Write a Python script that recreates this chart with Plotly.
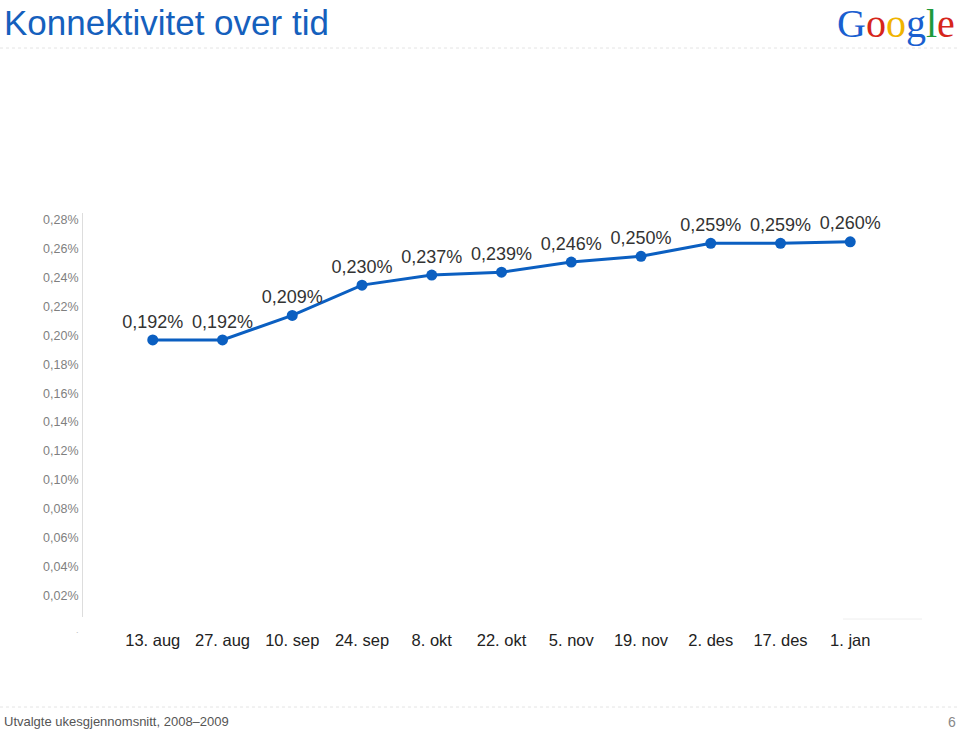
import plotly.graph_objects as go

dates = ["13. aug", "27. aug", "10. sep", "24. sep", "8. okt", "22. okt",
         "5. nov", "19. nov", "2. des", "17. des", "1. jan"]
connectivity = [0.192, 0.192, 0.209, 0.230, 0.237, 0.239, 0.246, 0.250, 0.259, 0.259, 0.260]
y_ticks = [0.02, 0.04, 0.06, 0.08, 0.10, 0.12, 0.14, 0.16, 0.18, 0.20, 0.22, 0.24, 0.26, 0.28]
y_tick_labels = [f"{v:.2f}".replace(".", ",") + "%" for v in y_ticks]

title_text = "Konnektivitet over tid"
footer_text = "Utvalgte ukesgjennomsnitt, 2008–2009"
page_no = "6"

blue = "#0b5fc1"
font = "Liberation Sans, Arial, sans-serif"

L, T, B, PW, PH = 83, 213, 114, 837, 404

def px(x):
    return (x - L) / PW

def py(y):
    return (T + PH - y) / PH

fig = go.Figure()
fig.add_trace(go.Scatter(
    x=list(range(len(dates))), y=connectivity,
    mode="lines+markers+text",
    line=dict(color=blue, width=3),
    marker=dict(color=blue, size=11),
    texttemplate="%{y:.3f}%",
    textposition="top center",
    textfont=dict(family=font, size=18, color="#333333"),
    cliponaxis=False,
    hoverinfo="skip",
))

fig.update_layout(
    width=960, height=731,
    paper_bgcolor="white", plot_bgcolor="white",
    margin=dict(l=L, r=960 - L - PW, t=T, b=B),
    separators=", ",
    showlegend=False,
    font=dict(family=font),
    xaxis=dict(
        range=[-1, 11],
        tickvals=list(range(len(dates))), ticktext=dates,
        showgrid=False, zeroline=False, showline=False, ticks="",
        tickfont=dict(family=font, size=16.5, color="#222222"),
        ticklabelstandoff=11,
    ),
    yaxis=dict(
        range=[0, 0.28],
        tickvals=y_ticks, ticktext=y_tick_labels,
        showgrid=False, zeroline=False,
        showline=True, linecolor="#dddddd", linewidth=1,
        ticks="", ticklabelstandoff=1, ticklabelshift=7,
        tickfont=dict(family=font, size=12.5, color="#7f7f7f"),
    ),
)

# Title
fig.add_annotation(xref="paper", yref="paper", x=px(2), y=py(22),
                   xanchor="left", yanchor="middle", showarrow=False,
                   text=title_text, font=dict(family=font, size=35, color="#1560bd"))
# Google logo
logo = ("<span style='color:#1a5fd0'>G</span><span style='color:#d6261b'>o</span>"
        "<span style='color:#f0b400'>o</span><span style='color:#1a5fd0'>g</span>"
        "<span style='color:#1e9a3b'>l</span><span style='color:#d6261b'>e</span>")
fig.add_annotation(xref="paper", yref="paper", x=px(957), y=py(23),
                   xanchor="right", yanchor="middle", showarrow=False,
                   text=logo, font=dict(family="Liberation Serif, DejaVu Serif, serif", size=40))
# Footer
fig.add_annotation(xref="paper", yref="paper", x=px(2), y=py(721),
                   xanchor="left", yanchor="middle", showarrow=False,
                   text=footer_text, font=dict(family=font, size=13, color="#555555"))
fig.add_annotation(xref="paper", yref="paper", x=px(958), y=py(722),
                   xanchor="right", yanchor="middle", showarrow=False,
                   text=page_no, font=dict(family=font, size=14, color="#888888"))
fig.add_annotation(xref="paper", yref="paper", x=px(81), y=py(630),
                   xanchor="right", yanchor="middle", showarrow=False,
                   text=".", font=dict(family=font, size=9, color="#bbbbbb"))

# Separator lines
fig.add_shape(type="line", xref="paper", yref="paper",
              x0=px(0), x1=px(960), y0=py(48), y1=py(48),
              line=dict(color="#e4e4e4", width=1, dash="dot"))
fig.add_shape(type="line", xref="paper", yref="paper",
              x0=px(0), x1=px(960), y0=py(707), y1=py(707),
              line=dict(color="#e4e4e4", width=1, dash="dot"))
fig.add_shape(type="line", xref="paper", yref="paper",
              x0=px(843), x1=px(922), y0=py(619), y1=py(619),
              line=dict(color="#eeeeee", width=1))

fig.write_html("out.html", config={"displayModeBar": False},
               post_script="document.body.style.margin='0';")
